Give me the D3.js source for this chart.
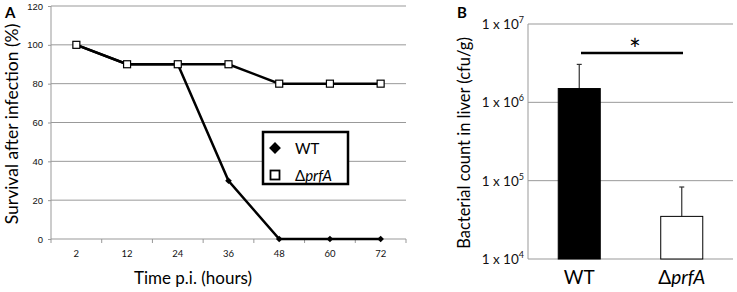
<!DOCTYPE html>
<html>
<head>
<meta charset="utf-8">
<script src="https://d3js.org/d3.v7.min.js"></script>
<style>
  body { margin: 0; background: #fff; }
  svg { font-family: Lato, "Open Sans", sans-serif; }
  .grid line { stroke: #999; stroke-width: 1px; }
  .axis path, .axis line { stroke: #999; }
</style>
</head>
<body>
<svg id="chart" width="737" height="292"></svg>
<script>
// panel A data
const timePoints = ["2", "12", "24", "36", "48", "60", "72"];
const wtSurvival = [100, 90, 90, 30, 0, 0, 0];
const prfaSurvival = [100, 90, 90, 90, 80, 80, 80];
const survivalTicks = [0, 20, 40, 60, 80, 100, 120];

// panel B data
const strains = ["WT", "prfA"];
const liverCounts = [1.5e6, 3.5e4];
const liverErrors = [3.05e6, 8.3e4];
const countTicks = [1e4, 1e5, 1e6, 1e7];

const svg = d3.select("#chart");

// ---------- PANEL A ----------
const xA = d3.scaleBand().domain(timePoints).range([51, 406]);
const yA = d3.scaleLinear().domain([0, 120]).range([239, 6]);
const gA = svg.append("g");

// gridlines
gA.append("g").attr("class", "grid")
  .selectAll("line").data(survivalTicks.filter(d => d > 0)).join("line")
  .attr("x1", 51).attr("x2", 406)
  .attr("y1", d => yA(d)).attr("y2", d => yA(d));

// y axis
const yAxisA = gA.append("g").attr("class", "axis")
  .attr("transform", "translate(51,0)")
  .call(d3.axisLeft(yA).tickValues(survivalTicks).tickSize(3).tickPadding(5));
yAxisA.select(".domain").remove();
gA.append("line").attr("x1", 51).attr("x2", 51).attr("y1", 6).attr("y2", 239).attr("stroke", "#999");
yAxisA.selectAll("text").style("font-size", "9.5px").attr("fill", "#111");

// x axis with ticks at band boundaries
gA.append("line").attr("x1", 51).attr("x2", 406).attr("y1", 239).attr("y2", 239)
  .attr("stroke", "#999");
const bounds = d3.range(timePoints.length + 1).map(i => xA.range()[0] + i * xA.step());
gA.selectAll("line.xtick").data(bounds).join("line").attr("class", "xtick")
  .attr("x1", d => d).attr("x2", d => d).attr("y1", 239).attr("y2", 243)
  .attr("stroke", "#999");
gA.selectAll("text.xlab").data(timePoints).join("text").attr("class", "xlab")
  .attr("x", d => xA(d) + xA.bandwidth() / 2).attr("y", 257)
  .attr("text-anchor", "middle").style("font-size", "9.5px").attr("fill", "#111")
  .text(d => d);

// titles
gA.append("text").attr("x", 193).attr("y", 284).attr("text-anchor", "middle")
  .style("font-size", "17px").text("Time p.i. (hours)");
gA.append("text").attr("transform", "translate(18,124) rotate(-90)")
  .attr("text-anchor", "middle").style("font-size", "17.5px")
  .text("Survival after infection (%)");
gA.append("text").attr("x", 5).attr("y", 18).style("font-size", "15px")
  .style("font-weight", "bold").text("A");

const lineA = d3.line().x((d, i) => xA(timePoints[i]) + xA.bandwidth() / 2).y(d => yA(d));

// WT line + diamonds
gA.append("path").datum(wtSurvival).attr("d", lineA)
  .attr("fill", "none").attr("stroke", "#000").attr("stroke-width", 2.5);
gA.selectAll("path.wt").data(wtSurvival).join("path").attr("class", "wt")
  .attr("transform", (d, i) => `translate(${xA(timePoints[i]) + xA.bandwidth() / 2},${yA(d)}) rotate(45)`)
  .attr("d", d3.symbol(d3.symbolSquare, 22)).attr("fill", "#000");

// prfA line + squares
gA.append("path").datum(prfaSurvival).attr("d", lineA)
  .attr("fill", "none").attr("stroke", "#000").attr("stroke-width", 2.5);
gA.selectAll("rect.prfa").data(prfaSurvival).join("rect").attr("class", "prfa")
  .attr("x", (d, i) => xA(timePoints[i]) + xA.bandwidth() / 2 - 3.5)
  .attr("y", d => yA(d) - 3.5).attr("width", 7).attr("height", 7)
  .attr("fill", "#fff").attr("stroke", "#000").attr("stroke-width", 1.2);

// legend
const leg = gA.append("g");
leg.append("rect").attr("x", 263).attr("y", 132).attr("width", 85).attr("height", 52)
  .attr("fill", "#fff").attr("stroke", "#000").attr("stroke-width", 2.5);
leg.append("path").attr("transform", "translate(275,148) rotate(45)")
  .attr("d", d3.symbol(d3.symbolSquare, 70)).attr("fill", "#000");
leg.append("rect").attr("x", 270.5).attr("y", 170.5).attr("width", 9).attr("height", 9)
  .attr("fill", "#fff").attr("stroke", "#000").attr("stroke-width", 1.8);
leg.append("text").attr("x", 295).attr("y", 154).style("font-size", "15px").text("WT");
const lt = leg.append("text").attr("x", 295).attr("y", 181).style("font-size", "15px");
lt.append("tspan").text("\u0394");
lt.append("tspan").style("font-style", "italic").text("prfA");

// ---------- PANEL B ----------
const xB = d3.scaleBand().domain(strains).range([528, 733]);
const yB = d3.scaleLog().domain([1e4, 1e7]).range([259, 24]);
const gB = svg.append("g");
const barW = xB.bandwidth() * 0.41;

gB.append("g").attr("class", "grid")
  .selectAll("line").data(countTicks).join("line")
  .attr("x1", 528).attr("x2", 733)
  .attr("y1", d => yB(d)).attr("y2", d => yB(d));
gB.append("line").attr("x1", 528).attr("x2", 528).attr("y1", yB(1e7)).attr("y2", yB(1e4))
  .attr("stroke", "#999");

// y tick labels
countTicks.forEach(v => {
  const t = gB.append("text").attr("x", 524).attr("y", yB(v) + 5)
    .attr("text-anchor", "end").style("font-size", "13.5px").attr("fill", "#111");
  t.append("tspan").text("1 x 10");
  t.append("tspan").attr("dy", -6).style("font-size", "9px").text(Math.round(Math.log10(v)));
});

// error bars
gB.selectAll("line.err").data(strains).join("line").attr("class", "err")
  .attr("x1", d => xB(d) + xB.bandwidth() / 2).attr("x2", d => xB(d) + xB.bandwidth() / 2)
  .attr("y1", (d, i) => yB(liverCounts[i])).attr("y2", (d, i) => yB(liverErrors[i]))
  .attr("stroke", "#333").attr("stroke-width", 1.2);
gB.selectAll("line.cap").data(strains).join("line").attr("class", "cap")
  .attr("x1", d => xB(d) + xB.bandwidth() / 2 - 2.5).attr("x2", d => xB(d) + xB.bandwidth() / 2 + 2.5)
  .attr("y1", (d, i) => yB(liverErrors[i])).attr("y2", (d, i) => yB(liverErrors[i]))
  .attr("stroke", "#333").attr("stroke-width", 1.2);

// bars
gB.selectAll("rect.bar").data(strains).join("rect").attr("class", "bar")
  .attr("x", d => xB(d) + (xB.bandwidth() - barW) / 2)
  .attr("y", (d, i) => yB(liverCounts[i]))
  .attr("width", barW)
  .attr("height", (d, i) => yB(1e4) - yB(liverCounts[i]))
  .attr("fill", (d, i) => i === 0 ? "#000" : "#fff")
  .attr("stroke", "#000").attr("stroke-width", 1);

// x labels
gB.append("text").attr("x", xB("WT") + xB.bandwidth() / 2).attr("y", 284)
  .attr("text-anchor", "middle").style("font-size", "19px").text("WT");
const xl = gB.append("text").attr("x", xB("prfA") + xB.bandwidth() / 2).attr("y", 284)
  .attr("text-anchor", "middle").style("font-size", "19px");
xl.append("tspan").text("\u0394");
xl.append("tspan").style("font-style", "italic").text("prfA");

// significance
gB.append("line").attr("x1", 581).attr("x2", 683).attr("y1", 53).attr("y2", 53)
  .attr("stroke", "#000").attr("stroke-width", 2.5);
gB.append("text").attr("x", 635).attr("y", 60).attr("text-anchor", "middle")
  .style("font-size", "28px").text("*");

gB.append("text").attr("transform", "translate(470,143) rotate(-90)")
  .attr("text-anchor", "middle").style("font-size", "16.5px")
  .text("Bacterial count in liver (cfu/g)");
gB.append("text").attr("x", 457).attr("y", 18).style("font-size", "15px")
  .style("font-weight", "bold").text("B");
</script>
</body>
</html>
